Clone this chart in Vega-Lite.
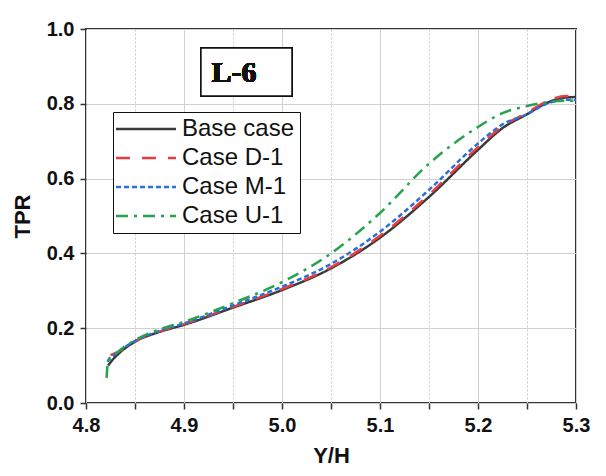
{
  "$schema": "https://vega.github.io/schema/vega-lite/v6.json",
  "width": 490,
  "height": 374,
  "autosize": {"type": "none"},
  "padding": {"left": 86, "top": 29, "right": 30, "bottom": 73},
  "background": "white",
  "config": {
    "view": {"stroke": "#333", "strokeWidth": 2},
    "font": "Liberation Sans",
    "axis": {
      "labelFont": "Liberation Sans",
      "labelFontWeight": "bold",
      "labelFontSize": 20,
      "labelColor": "#111",
      "titleFont": "Liberation Sans",
      "titleFontWeight": "bold",
      "titleFontSize": 22,
      "titleColor": "#111",
      "domain": false,
      "tickColor": "#333",
      "tickWidth": 1.5,
      "tickSize": 6,
      "grid": true,
      "gridWidth": 1,
      "labelFlush": false,
      "labelOverlap": false
    },
    "legend": {
      "orient": "none",
      "legendX": 27,
      "legendY": 83,
      "title": null,
      "symbolType": "M-6,0H6",
      "symbolSize": 100,
      "symbolOffset": 16,
      "symbolStrokeWidth": 2.5,
      "labelFont": "Liberation Sans",
      "labelFontSize": 24,
      "labelColor": "#111",
      "labelOffset": 24,
      "rowPadding": 5,
      "strokeColor": "#111",
      "fillColor": "white",
      "padding": 5,
      "labelLimit": 300
    }
  },
  "data": {
    "values": [
      {"case": "Base case", "x": 4.8225, "y": 0.100},
      {"case": "Base case", "x": 4.826, "y": 0.112},
      {"case": "Base case", "x": 4.835, "y": 0.136},
      {"case": "Base case", "x": 4.85, "y": 0.164},
      {"case": "Base case", "x": 4.875, "y": 0.190},
      {"case": "Base case", "x": 4.9, "y": 0.209},
      {"case": "Base case", "x": 4.95, "y": 0.255},
      {"case": "Base case", "x": 5.0, "y": 0.302},
      {"case": "Base case", "x": 5.05, "y": 0.360},
      {"case": "Base case", "x": 5.1, "y": 0.442},
      {"case": "Base case", "x": 5.15, "y": 0.551},
      {"case": "Base case", "x": 5.2, "y": 0.677},
      {"case": "Base case", "x": 5.225, "y": 0.735},
      {"case": "Base case", "x": 5.25, "y": 0.772},
      {"case": "Base case", "x": 5.27, "y": 0.802},
      {"case": "Base case", "x": 5.29, "y": 0.817},
      {"case": "Base case", "x": 5.3, "y": 0.818},
      {"case": "Case D-1", "x": 4.825, "y": 0.128},
      {"case": "Case D-1", "x": 4.835, "y": 0.140},
      {"case": "Case D-1", "x": 4.85, "y": 0.165},
      {"case": "Case D-1", "x": 4.875, "y": 0.191},
      {"case": "Case D-1", "x": 4.9, "y": 0.211},
      {"case": "Case D-1", "x": 4.95, "y": 0.257},
      {"case": "Case D-1", "x": 5.0, "y": 0.305},
      {"case": "Case D-1", "x": 5.05, "y": 0.363},
      {"case": "Case D-1", "x": 5.1, "y": 0.447},
      {"case": "Case D-1", "x": 5.15, "y": 0.557},
      {"case": "Case D-1", "x": 5.2, "y": 0.684},
      {"case": "Case D-1", "x": 5.225, "y": 0.740},
      {"case": "Case D-1", "x": 5.25, "y": 0.776},
      {"case": "Case D-1", "x": 5.27, "y": 0.806},
      {"case": "Case D-1", "x": 5.29, "y": 0.821},
      {"case": "Case D-1", "x": 5.3, "y": 0.820},
      {"case": "Case M-1", "x": 4.822, "y": 0.110},
      {"case": "Case M-1", "x": 4.8235, "y": 0.118},
      {"case": "Case M-1", "x": 4.828, "y": 0.127},
      {"case": "Case M-1", "x": 4.835, "y": 0.141},
      {"case": "Case M-1", "x": 4.85, "y": 0.166},
      {"case": "Case M-1", "x": 4.875, "y": 0.193},
      {"case": "Case M-1", "x": 4.9, "y": 0.213},
      {"case": "Case M-1", "x": 4.95, "y": 0.261},
      {"case": "Case M-1", "x": 5.0, "y": 0.311},
      {"case": "Case M-1", "x": 5.05, "y": 0.372},
      {"case": "Case M-1", "x": 5.1, "y": 0.458},
      {"case": "Case M-1", "x": 5.15, "y": 0.570},
      {"case": "Case M-1", "x": 5.2, "y": 0.694},
      {"case": "Case M-1", "x": 5.225, "y": 0.745},
      {"case": "Case M-1", "x": 5.25, "y": 0.772},
      {"case": "Case M-1", "x": 5.27, "y": 0.800},
      {"case": "Case M-1", "x": 5.29, "y": 0.811},
      {"case": "Case M-1", "x": 5.3, "y": 0.810},
      {"case": "Case U-1", "x": 4.821, "y": 0.067},
      {"case": "Case U-1", "x": 4.8225, "y": 0.112},
      {"case": "Case U-1", "x": 4.827, "y": 0.123},
      {"case": "Case U-1", "x": 4.835, "y": 0.142},
      {"case": "Case U-1", "x": 4.85, "y": 0.168},
      {"case": "Case U-1", "x": 4.875, "y": 0.197},
      {"case": "Case U-1", "x": 4.9, "y": 0.217},
      {"case": "Case U-1", "x": 4.95, "y": 0.267},
      {"case": "Case U-1", "x": 5.0, "y": 0.323},
      {"case": "Case U-1", "x": 5.05, "y": 0.400},
      {"case": "Case U-1", "x": 5.1, "y": 0.508},
      {"case": "Case U-1", "x": 5.15, "y": 0.640},
      {"case": "Case U-1", "x": 5.2, "y": 0.738},
      {"case": "Case U-1", "x": 5.225, "y": 0.775},
      {"case": "Case U-1", "x": 5.25, "y": 0.794},
      {"case": "Case U-1", "x": 5.27, "y": 0.804},
      {"case": "Case U-1", "x": 5.29, "y": 0.808},
      {"case": "Case U-1", "x": 5.3, "y": 0.808}
    ]
  },
  "layer": [
    {
      "mark": {"type": "line", "interpolate": "monotone", "strokeWidth": 2.5, "clip": true},
      "encoding": {
        "x": {
          "field": "x", "type": "quantitative",
          "scale": {"domain": [4.8, 5.3], "nice": false, "zero": false},
          "axis": {
            "title": "Y/H",
            "values": [4.8, 4.85, 4.9, 4.95, 5.0, 5.05, 5.1, 5.15, 5.2, 5.25, 5.3],
            "labelExpr": "abs(datum.value*10 - round(datum.value*10)) < 0.01 ? format(datum.value, '.1f') : ''",
            "labelPadding": 6,
            "titlePadding": 10,
            "gridColor": {"condition": {"test": "abs(datum.value*10 - round(datum.value*10)) > 0.01", "value": "#c8c8c8"}, "value": "#d0d0d0"},
            "gridDash": {"condition": {"test": "abs(datum.value*10 - round(datum.value*10)) > 0.01", "value": [2, 2]}, "value": []}
          }
        },
        "y": {
          "field": "y", "type": "quantitative",
          "scale": {"domain": [0, 1], "nice": false},
          "axis": {
            "title": "TPR",
            "values": [0, 0.1, 0.2, 0.3, 0.4, 0.5, 0.6, 0.7, 0.8, 0.9, 1.0],
            "labelExpr": "round(datum.value*10) % 2 == 0 ? format(datum.value, '.1f') : ''",
            "labelPadding": 6,
            "titlePadding": 12,
            "gridColor": {"condition": {"test": "round(datum.value*10) % 2 == 1", "value": "#c8c8c8"}, "value": "#d0d0d0"},
            "gridDash": {"condition": {"test": "round(datum.value*10) % 2 == 1", "value": [2, 2]}, "value": []}
          }
        },
        "color": {
          "field": "case", "type": "nominal",
          "scale": {"domain": ["Base case", "Case D-1", "Case M-1", "Case U-1"], "range": ["#3a3a3a", "#ec3d3d", "#2a6fdc", "#27a34f"]},
          "legend": {"title": null}
        },
        "strokeDash": {
          "field": "case", "type": "nominal",
          "scale": {"domain": ["Base case", "Case D-1", "Case M-1", "Case U-1"], "range": [[1, 0], [14, 12], [5, 3], [12, 6, 3, 6]]},
          "legend": {"title": null}
        }
      }
    },
    {
      "mark": {"type": "rect", "fill": "white", "stroke": "#111", "strokeWidth": 1.5},
      "encoding": {
        "x": {"datum": 4.9173},
        "x2": {"datum": 5.0102},
        "y": {"datum": 0.949},
        "y2": {"datum": 0.821}
      }
    },
    {
      "mark": {"type": "text", "font": "Liberation Serif", "fontWeight": "bold", "fontSize": 30, "align": "center", "baseline": "alphabetic", "color": "#111"},
      "encoding": {
        "x": {"datum": 4.951},
        "y": {"datum": 0.859},
        "text": {"value": "L-6"}
      }
    }
  ]
}
